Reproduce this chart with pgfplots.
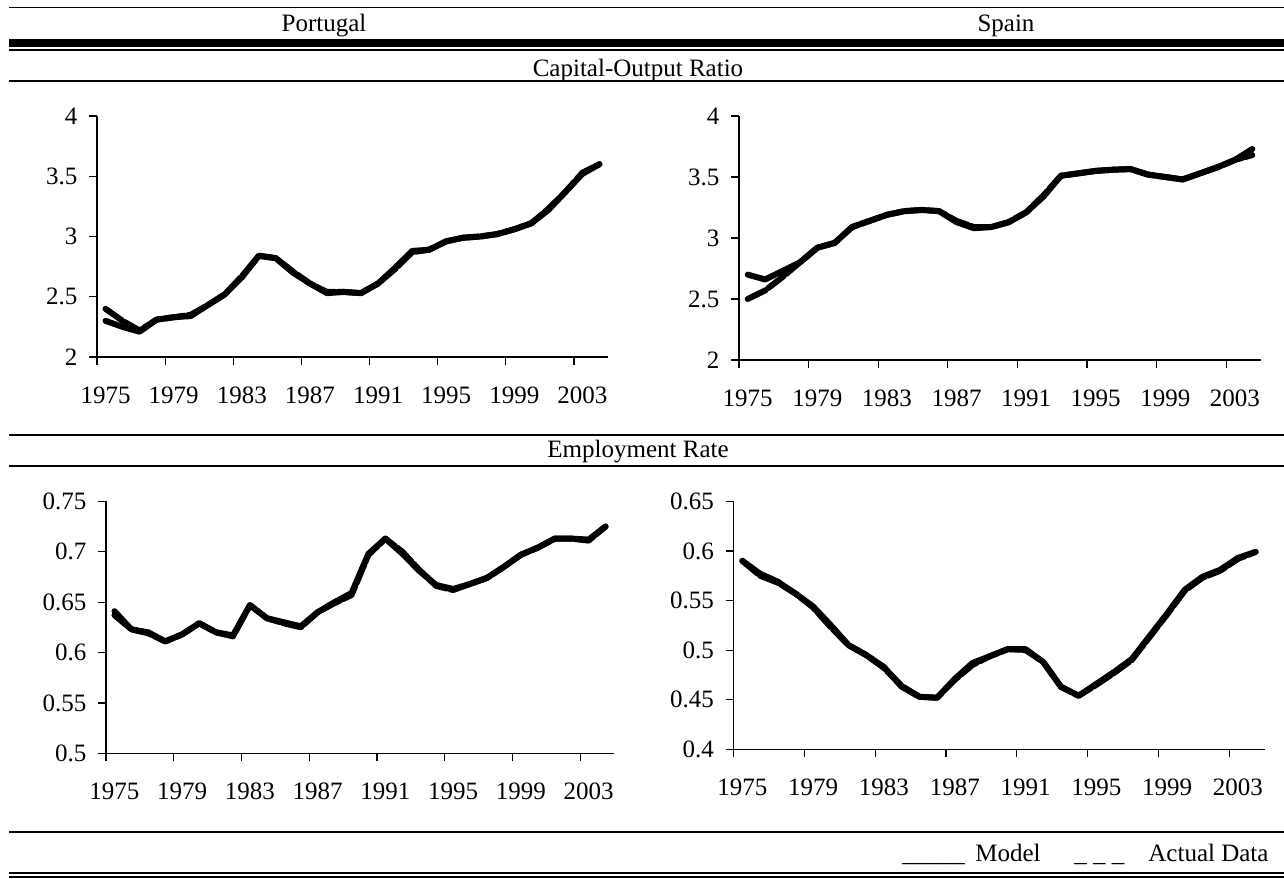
\documentclass[border=0pt]{standalone}
\usepackage{fontspec}
\setmainfont{Liberation Serif}
\usepackage{pgfplots}
\pgfplotsset{compat=1.18}
\usepackage{pgfplotstable}

\pgfplotstableread{
year model actual
1975 2.30 2.40
1976 2.25 2.30
1977 2.21 2.22
1978 2.31 2.31
1979 2.33 2.33
1980 2.34 2.35
1981 2.43 2.43
1982 2.52 2.52
1983 2.66 2.67
1984 2.84 2.84
1985 2.82 2.82
1986 2.70 2.71
1987 2.61 2.61
1988 2.53 2.54
1989 2.54 2.54
1990 2.53 2.53
1991 2.61 2.61
1992 2.74 2.73
1993 2.88 2.87
1994 2.89 2.89
1995 2.96 2.96
1996 2.99 2.99
1997 3.00 3.00
1998 3.02 3.02
1999 3.06 3.06
2000 3.11 3.11
2001 3.22 3.23
2002 3.37 3.37
2003 3.52 3.53
2004 3.60 3.60
}\ptK

\pgfplotstableread{
year model actual
1975 2.70 2.50
1976 2.66 2.57
1977 2.73 2.68
1978 2.80 2.80
1979 2.92 2.92
1980 2.96 2.96
1981 3.09 3.09
1982 3.14 3.14
1983 3.19 3.19
1984 3.22 3.22
1985 3.23 3.23
1986 3.22 3.22
1987 3.13 3.14
1988 3.08 3.09
1989 3.09 3.09
1990 3.13 3.13
1991 3.21 3.21
1992 3.34 3.35
1993 3.51 3.51
1994 3.53 3.53
1995 3.55 3.55
1996 3.56 3.56
1997 3.565 3.565
1998 3.52 3.52
1999 3.50 3.50
2000 3.48 3.48
2001 3.53 3.53
2002 3.58 3.58
2003 3.64 3.64
2004 3.73 3.68
}\esK

\pgfplotstableread{
year model actual
1975 0.641 0.637
1976 0.623 0.623
1977 0.620 0.619
1978 0.611 0.611
1979 0.618 0.618
1980 0.629 0.629
1981 0.620 0.620
1982 0.617 0.616
1983 0.647 0.647
1984 0.634 0.634
1985 0.630 0.629
1986 0.626 0.625
1987 0.640 0.640
1988 0.650 0.649
1989 0.659 0.657
1990 0.698 0.697
1991 0.713 0.713
1992 0.698 0.700
1993 0.681 0.682
1994 0.667 0.666
1995 0.663 0.662
1996 0.668 0.668
1997 0.674 0.674
1998 0.685 0.685
1999 0.697 0.697
2000 0.704 0.704
2001 0.713 0.713
2002 0.713 0.713
2003 0.712 0.711
2004 0.725 0.725
}\ptE

\pgfplotstableread{
year model actual
1975 0.590 0.590
1976 0.577 0.575
1977 0.569 0.568
1978 0.557 0.557
1979 0.544 0.543
1980 0.525 0.523
1981 0.505 0.505
1982 0.495 0.495
1983 0.483 0.482
1984 0.463 0.464
1985 0.453 0.453
1986 0.452 0.452
1987 0.471 0.470
1988 0.487 0.485
1989 0.494 0.494
1990 0.501 0.501
1991 0.501 0.500
1992 0.488 0.488
1993 0.463 0.463
1994 0.454 0.454
1995 0.466 0.465
1996 0.478 0.477
1997 0.491 0.490
1998 0.514 0.513
1999 0.537 0.536
2000 0.561 0.560
2001 0.574 0.573
2002 0.581 0.580
2003 0.593 0.592
2004 0.599 0.599
}\esE

\pgfplotsset{
  panel/.style={
    scale only axis,
    axis lines*=left,
    xmin=1974.5, xmax=2004.5,
    clip=false,
    axis line style={line width=0.6pt, black},
    every tick/.style={line width=0.6pt, black},
    tick align=outside,
    major tick length=4pt,
    xtick={1974.5,1978.5,1982.5,1986.5,1990.5,1994.5,1998.5,2002.5},
    xticklabels={1975,1979,1983,1987,1991,1995,1999,2003},
    tick label style={font=\fontsize{12.5}{15}\selectfont},
    /pgf/number format/assume math mode=true,
    yticklabel style={xshift=-2.3pt},
  },
  model/.style={black, line width=3pt, line cap=round, line join=round},
  actual/.style={black, line width=3pt, line cap=round, line join=round, dash pattern=on 10pt off 1.5pt},
}

\begin{document}
\begin{tikzpicture}[font=\fontsize{12.5}{15}\selectfont]
\begin{scope}[x=0.5pt,y=-0.5pt]
\path[use as bounding box] (0,0) rectangle (1284,878);
\draw[line width=0.75pt] (9,7.3) -- (1284,7.3);
\draw[line width=3.7pt] (9,43) -- (1284,43);
\draw[line width=0.9pt] (9,49.7) -- (1284,49.7);
\draw[line width=1pt] (9,81) -- (1284,81);
\draw[line width=1pt] (9,435) -- (1284,435);
\draw[line width=1pt] (9,466) -- (1284,466);
\draw[line width=1pt] (9,832) -- (1284,832);
\draw[line width=1pt] (9,873) -- (1284,873);
\draw[line width=1pt] (9,877) -- (1284,877);
\node[anchor=base] at (324,31.7) {Portugal};
\node[anchor=base] at (1006,31.7) {Spain};
\node[anchor=base] at (638,76) {Capital-Output Ratio};
\node[anchor=base] at (638,457.7) {Employment Rate};
\node[anchor=base west, inner sep=0pt] at (902,861.7) {\_\_\_\_\_};
\node[anchor=base west, inner sep=0pt] at (975,861.7) {Model};
\node[anchor=base west, inner sep=0pt] at (1074,861.7) {\_ \_ \_};
\node[anchor=base west, inner sep=0pt] at (1148,861.7) {Actual Data};
\end{scope}

% Portugal capital-output
\begin{axis}[panel, at={(48.5pt,-178.5pt)}, anchor=south west,
  width=255.5pt, height=120.5pt, ymin=2, ymax=4, ytick={2,2.5,3,3.5,4},
  xticklabel style={xshift=4.26pt, yshift=-7.3pt}]
\addplot[actual] table[x=year, y=actual] {\ptK};
\addplot[model] table[x=year, y=model] {\ptK};
\end{axis}

% Spain capital-output
\begin{axis}[panel, at={(369.5pt,-180pt)}, anchor=south west,
  width=261pt, height=122pt, ymin=2, ymax=4, ytick={2,2.5,3,3.5,4},
  xticklabel style={xshift=4.35pt, yshift=-7.3pt}]
\addplot[actual] table[x=year, y=actual] {\esK};
\addplot[model] table[x=year, y=model] {\esK};
\end{axis}

% Portugal employment
\begin{axis}[panel, at={(53pt,-376.65pt)}, anchor=south west,
  width=254pt, height=126pt, ymin=0.5, ymax=0.75,
  ytick={0.5,0.55,0.6,0.65,0.7,0.75},
  xticklabel style={xshift=4.23pt, yshift=-7.3pt}]
\addplot[actual] table[x=year, y=actual] {\ptE};
\addplot[model] table[x=year, y=model] {\ptE};
\end{axis}

% Spain employment
\begin{axis}[panel, at={(366.75pt,-374.65pt)}, anchor=south west,
  width=265.5pt, height=124pt, ymin=0.4, ymax=0.65,
  ytick={0.4,0.45,0.5,0.55,0.6,0.65},
  xticklabel style={xshift=4.43pt, yshift=-7.3pt}]
\addplot[actual] table[x=year, y=actual] {\esE};
\addplot[model] table[x=year, y=model] {\esE};
\end{axis}
\end{tikzpicture}
\end{document}
